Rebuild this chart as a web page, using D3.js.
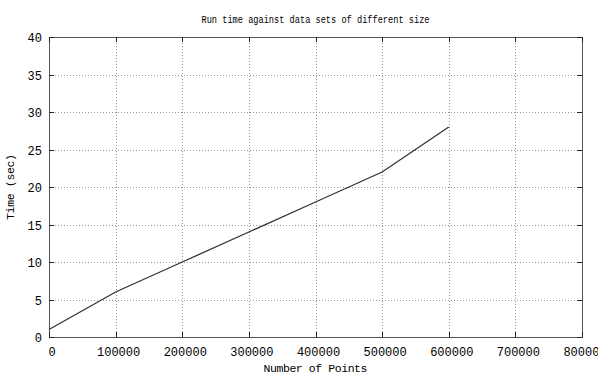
<!DOCTYPE html>
<meta charset="utf-8">
<style>
body { margin: 0; background: #fff; }
text { font-family: "Liberation Mono", "DejaVu Sans Mono", monospace; fill: #000; }
.grid line { stroke: #999; stroke-dasharray: 1,2; }
</style>
<body>
<script src="https://cdn.jsdelivr.net/npm/d3@7"></script>
<script>

var points = [0, 100000, 200000, 300000, 400000, 500000, 600000],
    seconds = [1, 6, 10, 14, 18, 22, 28];

var xTicks = [0, 100000, 200000, 300000, 400000, 500000, 600000, 700000, 800000],
    yTicks = [0, 5, 10, 15, 20, 25, 30, 35, 40];

var margin = {top: 37, right: 16, bottom: 39, left: 49},
    width = 598 - margin.left - margin.right,
    height = 376 - margin.top - margin.bottom;

var x = d3.scaleLinear().domain([0, 800000]).range([0, width]);
var y = d3.scaleLinear().domain([0, 40]).range([height, 0]);

var svg = d3.select("body").append("svg")
    .attr("width", 598)
    .attr("height", 376)
  .append("g")
    .attr("transform", "translate(" + margin.left + "," + margin.top + ")");

// dotted grid
svg.append("g")
    .attr("class", "grid")
  .selectAll("line.v")
    .data(xTicks.slice(1, -1))
  .enter().append("line")
    .attr("x1", function(d) { return Math.round(x(d)) + 0.5; })
    .attr("x2", function(d) { return Math.round(x(d)) + 0.5; })
    .attr("y1", 0)
    .attr("y2", height);

svg.select(".grid").selectAll("line.h")
    .data(yTicks.slice(1, -1))
  .enter().append("line")
    .attr("x1", 0)
    .attr("x2", width)
    .attr("y1", function(d) { return Math.round(y(d)) + 0.5; })
    .attr("y2", function(d) { return Math.round(y(d)) + 0.5; });

// box
svg.append("rect")
    .attr("x", 0.5).attr("y", 0.5)
    .attr("width", width).attr("height", height)
    .attr("fill", "none")
    .attr("stroke", "#555");

// inward ticks on all four sides
var tk = svg.append("g").attr("stroke", "#222");
xTicks.forEach(function(d) {
  var px = Math.round(x(d)) + 0.5;
  tk.append("line").attr("x1", px).attr("x2", px).attr("y1", height).attr("y2", height - 5);
  tk.append("line").attr("x1", px).attr("x2", px).attr("y1", 0).attr("y2", 5);
});
yTicks.forEach(function(d) {
  var py = Math.round(y(d)) + 0.5;
  tk.append("line").attr("x1", 0).attr("x2", 5).attr("y1", py).attr("y2", py);
  tk.append("line").attr("x1", width).attr("x2", width - 5).attr("y1", py).attr("y2", py);
});

// tick labels
svg.append("g").selectAll("text")
    .data(xTicks)
  .enter().append("text")
    .attr("x", function(d) { return x(d) + 3; })
    .attr("y", height + 19)
    .attr("text-anchor", "middle")
    .style("font-size", "12px")
    .text(function(d) { return d; });

svg.append("g").selectAll("text")
    .data(yTicks)
  .enter().append("text")
    .attr("x", -7)
    .attr("y", function(d) { return y(d) + 5; })
    .attr("text-anchor", "end")
    .style("font-size", "12px")
    .text(function(d) { return d; });

// data line
var line = d3.line()
    .x(function(d, i) { return x(points[i]); })
    .y(function(d) { return y(d); });

svg.append("path")
    .datum(seconds)
    .attr("fill", "none")
    .attr("stroke", "#333")
    .attr("stroke-width", 1.3)
    .attr("d", line);

// titles
svg.append("text")
    .attr("x", width / 2)
    .attr("y", -14)
    .attr("text-anchor", "middle")
    .attr("textLength", 228)
    .attr("lengthAdjust", "spacingAndGlyphs")
    .style("font-size", "11.5px")
    .text("Run time against data sets of different size");

svg.append("text")
    .attr("x", width / 2)
    .attr("y", height + 35)
    .attr("text-anchor", "middle")
    .attr("textLength", 104)
    .style("font-size", "11.5px")
    .text("Number of Points");

svg.append("text")
    .attr("transform", "translate(" + (-35) + "," + (height / 2) + ") rotate(-90)")
    .attr("text-anchor", "middle")
    .attr("textLength", 66)
    .style("font-size", "11.5px")
    .text("Time (sec)");

</script>
